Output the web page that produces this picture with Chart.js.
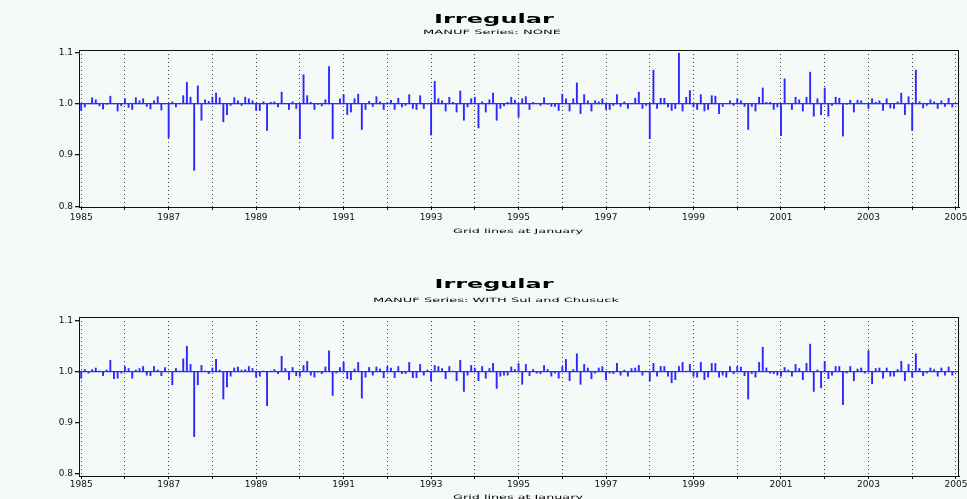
<!DOCTYPE html>
<html>
<head>
<meta charset="utf-8">
<title>Irregular – MANUF</title>
<script src="https://cdn.jsdelivr.net/npm/chart.js@4.4.1/dist/chart.umd.min.js"></script>
<style>
  html, body { margin: 0; padding: 0; width: 967px; height: 499px; overflow: hidden; background: #f5f9f7; }
  canvas { position: absolute; left: 0; }
  #panelNone { top: 0; }
  #panelHoliday { top: 250px; }
</style>
</head>
<body>
<canvas id="panelNone" width="967" height="250"></canvas>
<canvas id="panelHoliday" width="967" height="270"></canvas>
<script>
// Monthly irregular component of MANUF, January 1985 – December 2004
const START_YEAR = 1985;
const BASELINE = 1.0;
const Y_TICKS = [0.8, 0.9, 1.0, 1.1];
const YEAR_TICKS = [1985, 1986, 1987, 1988, 1989, 1990, 1991, 1992, 1993, 1994, 1995,
                    1996, 1997, 1998, 1999, 2000, 2001, 2002, 2003, 2004, 2005];
const YEAR_LABELS = [1985, 1987, 1989, 1991, 1993, 1995, 1997, 1999, 2001, 2003, 2005];

// No holiday regressors
const irregularNone = [
  0.987, 0.994, 1.001, 1.012, 1.008, 0.996, 0.990, 0.999, 1.015, 1.001, 0.986, 0.996,
  1.010, 0.993, 0.989, 1.012, 1.006, 1.010, 0.995, 0.990, 1.006, 1.014, 0.988, 1.001,
  0.934, 1.004, 0.994, 1.001, 1.016, 1.042, 1.013, 0.870, 1.035, 0.968, 1.008, 1.005,
  1.013, 1.021, 1.012, 0.965, 0.979, 0.997, 1.012, 1.006, 0.997, 1.013, 1.010, 1.006,
  0.987, 0.987, 1.004, 0.948, 1.003, 1.004, 0.994, 1.023, 1.001, 0.989, 1.004, 0.991,
  0.932, 1.057, 1.016, 1.003, 0.989, 0.999, 0.996, 1.008, 1.073, 0.932, 1.001, 1.010,
  1.018, 0.979, 0.984, 1.010, 1.019, 0.950, 0.989, 1.005, 0.995, 1.014, 1.004, 0.989,
  1.002, 1.007, 0.989, 1.011, 0.994, 0.997, 1.018, 0.991, 0.989, 1.016, 0.991, 1.001,
  0.939, 1.044, 1.010, 1.006, 0.986, 1.013, 1.003, 0.984, 1.025, 0.968, 0.994, 1.010,
  1.013, 0.953, 1.004, 0.984, 1.008, 1.021, 0.968, 0.991, 0.996, 1.003, 1.013, 1.007,
  0.974, 1.010, 1.014, 0.989, 1.003, 1.001, 0.997, 1.012, 0.999, 0.995, 0.995, 0.987,
  1.019, 1.010, 0.986, 1.010, 1.041, 0.981, 1.018, 1.006, 0.986, 1.006, 1.004, 1.010,
  0.989, 0.989, 0.997, 1.018, 0.995, 1.004, 0.991, 1.001, 1.011, 1.023, 0.991, 0.997,
  0.932, 1.066, 0.991, 1.011, 1.011, 0.994, 0.987, 0.991, 1.099, 0.986, 1.013, 1.026,
  0.994, 0.989, 1.018, 0.986, 0.989, 1.016, 1.015, 0.981, 0.995, 1.001, 1.006, 0.997,
  1.010, 1.006, 0.995, 0.950, 0.995, 0.986, 1.013, 1.031, 1.003, 1.003, 0.989, 0.994,
  0.938, 1.049, 1.001, 0.989, 1.013, 1.008, 0.986, 1.013, 1.062, 0.976, 1.010, 0.979,
  1.031, 0.976, 0.997, 1.013, 1.011, 0.937, 0.999, 1.007, 0.984, 1.007, 1.006, 1.001,
  0.991, 1.010, 1.003, 1.006, 0.987, 1.010, 0.992, 0.991, 1.004, 1.021, 0.979, 1.014,
  0.948, 1.066, 1.004, 0.992, 0.997, 1.008, 1.004, 0.991, 1.006, 0.995, 1.011, 0.994
];

// With Sul and Chusuck holiday regressors
const irregularSulChusuck = [
  0.987, 1.004, 0.997, 1.004, 1.007, 1.001, 0.992, 1.003, 1.022, 0.986, 0.987, 0.997,
  1.010, 1.006, 0.987, 1.003, 1.006, 1.010, 0.993, 0.992, 1.010, 1.003, 0.992, 1.008,
  1.001, 0.974, 1.006, 1.001, 1.025, 1.050, 1.014, 0.872, 0.974, 1.012, 1.001, 0.996,
  1.007, 1.024, 1.003, 0.946, 0.970, 0.991, 1.007, 1.009, 1.003, 1.004, 1.010, 1.006,
  0.989, 0.991, 1.001, 0.933, 1.001, 1.004, 0.996, 1.030, 1.006, 0.984, 1.008, 0.992,
  0.991, 1.012, 1.020, 0.993, 0.989, 0.999, 0.996, 1.009, 1.041, 0.953, 0.997, 1.008,
  1.018, 0.986, 0.984, 1.005, 1.018, 0.948, 0.989, 1.008, 0.993, 1.009, 1.005, 0.988,
  1.010, 1.007, 0.988, 1.010, 0.996, 0.996, 1.018, 0.988, 0.988, 1.014, 0.993, 1.003,
  0.982, 1.012, 1.010, 1.006, 0.986, 1.010, 1.001, 0.982, 1.022, 0.961, 0.993, 1.012,
  1.007, 0.982, 1.010, 0.987, 1.006, 1.016, 0.967, 0.991, 0.993, 0.993, 1.009, 1.004,
  1.016, 0.975, 1.014, 0.992, 1.004, 0.997, 0.996, 1.012, 1.004, 0.991, 0.997, 0.987,
  1.010, 1.024, 0.982, 1.004, 1.035, 0.975, 1.014, 1.007, 0.986, 0.997, 1.007, 1.010,
  0.984, 0.997, 0.996, 1.016, 0.993, 1.003, 0.991, 1.006, 1.007, 1.012, 0.993, 1.001,
  0.982, 1.016, 0.991, 1.010, 1.010, 0.991, 0.978, 0.984, 1.010, 1.018, 1.001, 1.014,
  0.991, 0.989, 1.018, 0.984, 0.989, 1.016, 1.016, 0.989, 0.993, 0.989, 1.010, 0.996,
  1.010, 1.009, 0.992, 0.946, 0.996, 0.989, 1.018, 1.048, 1.007, 0.997, 0.996, 0.993,
  0.991, 1.008, 1.003, 0.991, 1.014, 1.006, 0.984, 1.016, 1.054, 0.961, 1.003, 0.968,
  1.020, 0.986, 0.993, 1.010, 1.010, 0.935, 0.997, 1.010, 0.982, 1.005, 1.007, 0.997,
  1.041, 0.976, 1.006, 1.007, 0.987, 1.007, 0.991, 0.991, 1.004, 1.020, 0.982, 1.014,
  0.989, 1.035, 1.006, 0.992, 0.997, 1.007, 1.004, 0.991, 1.007, 0.993, 1.009, 0.993
];

// Each month becomes a needle from the baseline to its value
function monthlyNeedles(values) {
  return values.map((v, i) => ({ x: START_YEAR + i / 12, y: [BASELINE, v] }));
}

// Wide, stretched headings in the style of the original graphics device
function drawStretched(ctx, item) {
  ctx.save();
  ctx.font = item.font;
  ctx.fillStyle = item.color || '#000';
  ctx.textAlign = 'center';
  ctx.textBaseline = 'alphabetic';
  const w = ctx.measureText(item.text).width;
  ctx.translate(item.x, item.y);
  ctx.scale(item.width / w, 1);
  ctx.fillText(item.text, 0, 0);
  ctx.restore();
}

const panelDecor = {
  id: 'panelDecor',
  afterDraw(chart, _args, opts) {
    const { ctx, chartArea: { left, top, right, bottom } } = chart;
    ctx.save();
    ctx.strokeStyle = '#111';
    ctx.lineWidth = 1;
    ctx.beginPath();
    const t = Math.round(top) + 0.5;
    const r = Math.round(right) - 0.5;
    ctx.moveTo(Math.round(left), t);
    ctx.lineTo(r + 0.5, t);
    ctx.moveTo(r, t);
    ctx.lineTo(r, bottom);
    ctx.stroke();
    ctx.restore();
    (opts.texts || []).forEach(item => drawStretched(ctx, item));
  }
};

const TICK_FONT = { family: 'DejaVu Sans', size: 9 };

function makePanel(canvasId, values, frame, texts) {
  return new Chart(document.getElementById(canvasId), {
    type: 'bar',
    data: {
      datasets: [{
        data: monthlyNeedles(values),
        backgroundColor: '#2a2aff',
        borderWidth: 0,
        barThickness: 1.25,
        grouped: false
      }]
    },
    options: {
      responsive: false,
      animation: false,
      events: [],
      layout: { padding: { top: frame.top, right: frame.right, left: 0, bottom: 0 } },
      plugins: {
        legend: { display: false },
        tooltip: { enabled: false },
        title: { display: false },
        panelDecor: { texts }
      },
      scales: {
        x: {
          type: 'linear',
          offset: false,
          min: 1984.95,
          max: 2005.07,
          afterBuildTicks: s => { s.ticks = YEAR_TICKS.map(v => ({ value: v })); },
          afterFit: s => { s.height = frame.xAxisHeight; s.paddingLeft = 0; s.paddingRight = 0; },
          ticks: {
            autoSkip: false,
            maxRotation: 0,
            padding: frame.xLabelPad,
            color: '#111',
            font: TICK_FONT,
            callback: v => (YEAR_LABELS.includes(v) ? String(v) : '')
          },
          grid: { offset: false, color: '#3c3c3c', lineWidth: 1, tickLength: 3, tickColor: '#111' },
          border: { display: true, color: '#111', width: 1, dash: [1, 3] }
        },
        y: {
          min: frame.yMin,
          max: frame.yMax,
          afterBuildTicks: s => { s.ticks = Y_TICKS.map(v => ({ value: v })); },
          afterFit: s => { s.width = 79; s.paddingTop = 0; s.paddingBottom = 0; },
          ticks: {
            padding: 2,
            color: '#111',
            font: TICK_FONT,
            callback: v => v.toFixed(1)
          },
          grid: {
            color: c => (c.tick && c.tick.value === BASELINE ? '#3030ff' : 'rgba(0,0,0,0)'),
            lineWidth: 1.3,
            tickLength: 4,
            tickColor: '#111'
          },
          border: { display: true, color: '#111', width: 1 }
        }
      }
    },
    plugins: [panelDecor]
  });
}

const HEAD_FONT = 'bold 12px "DejaVu Sans"';
const SMALL_FONT = '6px "DejaVu Sans"';

makePanel('panelNone', irregularNone,
  { top: 50, right: 8, xAxisHeight: 43, xLabelPad: 2, yMin: 0.7984, yMax: 1.1053 },
  [
    { text: 'Irregular', font: HEAD_FONT, width: 120, x: 494, y: 22.7 },
    { text: 'MANUF Series: NONE', font: SMALL_FONT, width: 138, x: 492, y: 34.3 },
    { text: 'Grid lines at January', font: SMALL_FONT, width: 130, x: 518, y: 233.3 }
  ]);

makePanel('panelHoliday', irregularSulChusuck,
  { top: 67, right: 8, xAxisHeight: 44, xLabelPad: 0, yMin: 0.7947, yMax: 1.1073 },
  [
    { text: 'Irregular', font: HEAD_FONT, width: 119, x: 494, y: 38.3 },
    { text: 'MANUF Series: WITH Sul and Chusuck', font: SMALL_FONT, width: 246, x: 496, y: 51.7 },
    { text: 'Grid lines at January', font: SMALL_FONT, width: 130, x: 518, y: 249 }
  ]);
</script>
</body>
</html>
